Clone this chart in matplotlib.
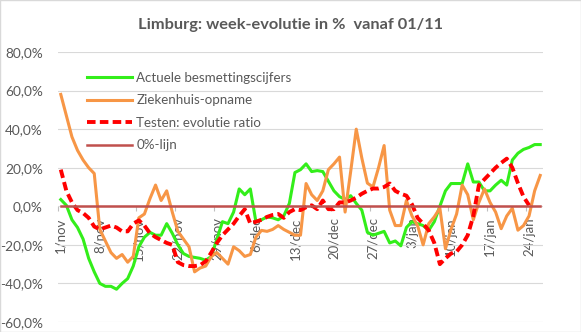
import numpy as np
import matplotlib.pyplot as plt
from matplotlib.ticker import FuncFormatter, FixedLocator
from matplotlib.patches import Rectangle

# daily values from 1/nov to 26/jan (week-evolution in %)
actuele = [3.5, 0.5, -7, -11, -17, -27, -34, -40, -41.5, -41.5,
           -43, -40, -37.5, -31, -21, -16, -13.5, -15, -15, -9,
           -14, -20, -24.5, -26, -26.5, -27, -28, -26, -17, -8,
           -9, -3, 9, 6, 9, -8, -7, -5.5, -6, -7,
           -5, 1.5, 17.5, 19, 22, 18, 18.5, 18, 13, 8,
           5, 3.5, 5.5, 1.5, -2, -13.5, -15, -14, -13, -19,
           -18, -20.5, -11, -8, -9, -10, -12.5, -8, 0, 8,
           11.8, 11.8, 11.8, 22, 12.6, 12.6, 8, 8, 11, 13.5,
           11, 24, 27.5, 29.5, 30.5, 32, 32]
ziekenhuis = [58, 47, 36, 29, 24, 20, 17, -12, -18, -24,
              -27, -25, -29, -26, -6, -4, 4, 11, 3, 8,
              -3, -13, -17, -21, -34, -32, -31, -26, -24, -27,
              -30, -21, -23, -26, -25, -16, -12.5, -13, -12, -10,
              -12, -13.5, -15, -15, 11.8, 6, 3, 8, 19, 22,
              25.5, -3, 18, 40, 25, 12, 10, 20, 31.5, -2,
              -10, -10, 3, -5, -10, -20, -9, -5.5, -1, -22,
              -12, -4, 11, 6, -7, 2, 9, 2, -3, -11.6,
              -5, -1, -12.4, -10, -5, 8, 16]
testen = [19, 8, 2, -2, -3.5, -6, -10.5, -12, -11, -10,
          -11, -13, -13, -9, -7.3, -10, -14, -16, -17.5, -19,
          -20, -29, -30.5, -31, -31, -30.5, -28.5, -24, -19, -15,
          -12, -9, -5, -1.5, -9, -8, -7, -5.5, -4.5, -4,
          -6, -3, -1.5, -2, -0.5, 0.5, -1.5, 3, -1.5, -1.5,
          2, 2, 3, 4.5, 6.5, 8, 9.2, 9.2, 10, 11.8,
          8, 6.5, 5.5, 1, -6, -9, -12.5, -19, -30, -27,
          -24.5, -23.5, -20, -15, -5, 11, 14, 17, 20, 22.5,
          24.7, 20, 12, 5, 0.5]
tick_labels = ['1/nov', '8/nov', '15/nov', '22/nov', '29/nov', '6/dec', '13/dec',
               '20/dec', '27/dec', '3/jan', '10/jan', '17/jan', '24/jan']

n = len(actuele)
days = np.arange(n)
testen_full = np.full(n, np.nan)
testen_full[:len(testen)] = testen

txt = '#595959'
plt.rcParams['font.family'] = ['Lato', 'DejaVu Sans']

fig = plt.figure(figsize=(5.81, 3.32), dpi=100)
fig.patches.append(Rectangle((0, 0), 1, 1, transform=fig.transFigure,
                             fill=False, edgecolor='#D9D9D9', lw=1))
ax = fig.add_axes([58 / 581, 1 - 322 / 332, 485 / 581, 270 / 332])

ax.plot(days, actuele, color='#33EE1A', lw=2.2, label='Actuele besmettingscijfers')
ax.plot(days, ziekenhuis, color='#F79646', lw=2.2, label='Ziekenhuis-opname')
ax.plot(days, testen_full, color='#FF0000', lw=2.8, ls=(0, (2.2, 1.1)),
        label='Testen: evolutie ratio')
ax.plot(days, np.zeros(n), color='#C0504D', lw=1.8, label='0%-lijn')

ax.set_xlim(-0.5, n - 0.5)
ax.set_ylim(-60, 80)
ax.set_yticks(np.arange(-60, 81, 20))
ax.yaxis.set_major_formatter(FuncFormatter(lambda v, p: f'{v:.1f}%'.replace('.', ',')))
ax.yaxis.grid(True, color='#D9D9D9', lw=0.8)
ax.set_axisbelow(True)

for s in ['top', 'right', 'left']:
    ax.spines[s].set_visible(False)
ax.spines['bottom'].set_position(('data', 0))
ax.spines['bottom'].set_visible(False)

ax.set_xticks(np.arange(0, n, 7))
ax.set_xticklabels(tick_labels, rotation=90)
ax.xaxis.set_minor_locator(FixedLocator(np.arange(-0.5, n, 7)))
ax.tick_params(axis='x', which='major', length=0, pad=8, labelsize=9.5, colors=txt)
ax.tick_params(axis='x', which='minor', length=3.5, width=0.8, color='#BFBFBF')
ax.tick_params(axis='y', length=0, pad=11, labelsize=9.8, colors=txt)

leg = ax.legend(loc='upper left', bbox_to_anchor=(29 / 485, 1 - 20 / 270), frameon=False,
                fontsize=9.6, handlelength=3.4, handletextpad=0.3, labelspacing=0.78,
                borderpad=0, borderaxespad=0)
for t in leg.get_texts():
    t.set_color(txt)

fig.text(0.5, 1 - 25 / 332, 'Limburg: week-evolutie in %  vanaf 01/11', ha='center', va='center',
         fontsize=11.8, fontweight='bold', color=txt)

fig.savefig('out.png', dpi=100)
